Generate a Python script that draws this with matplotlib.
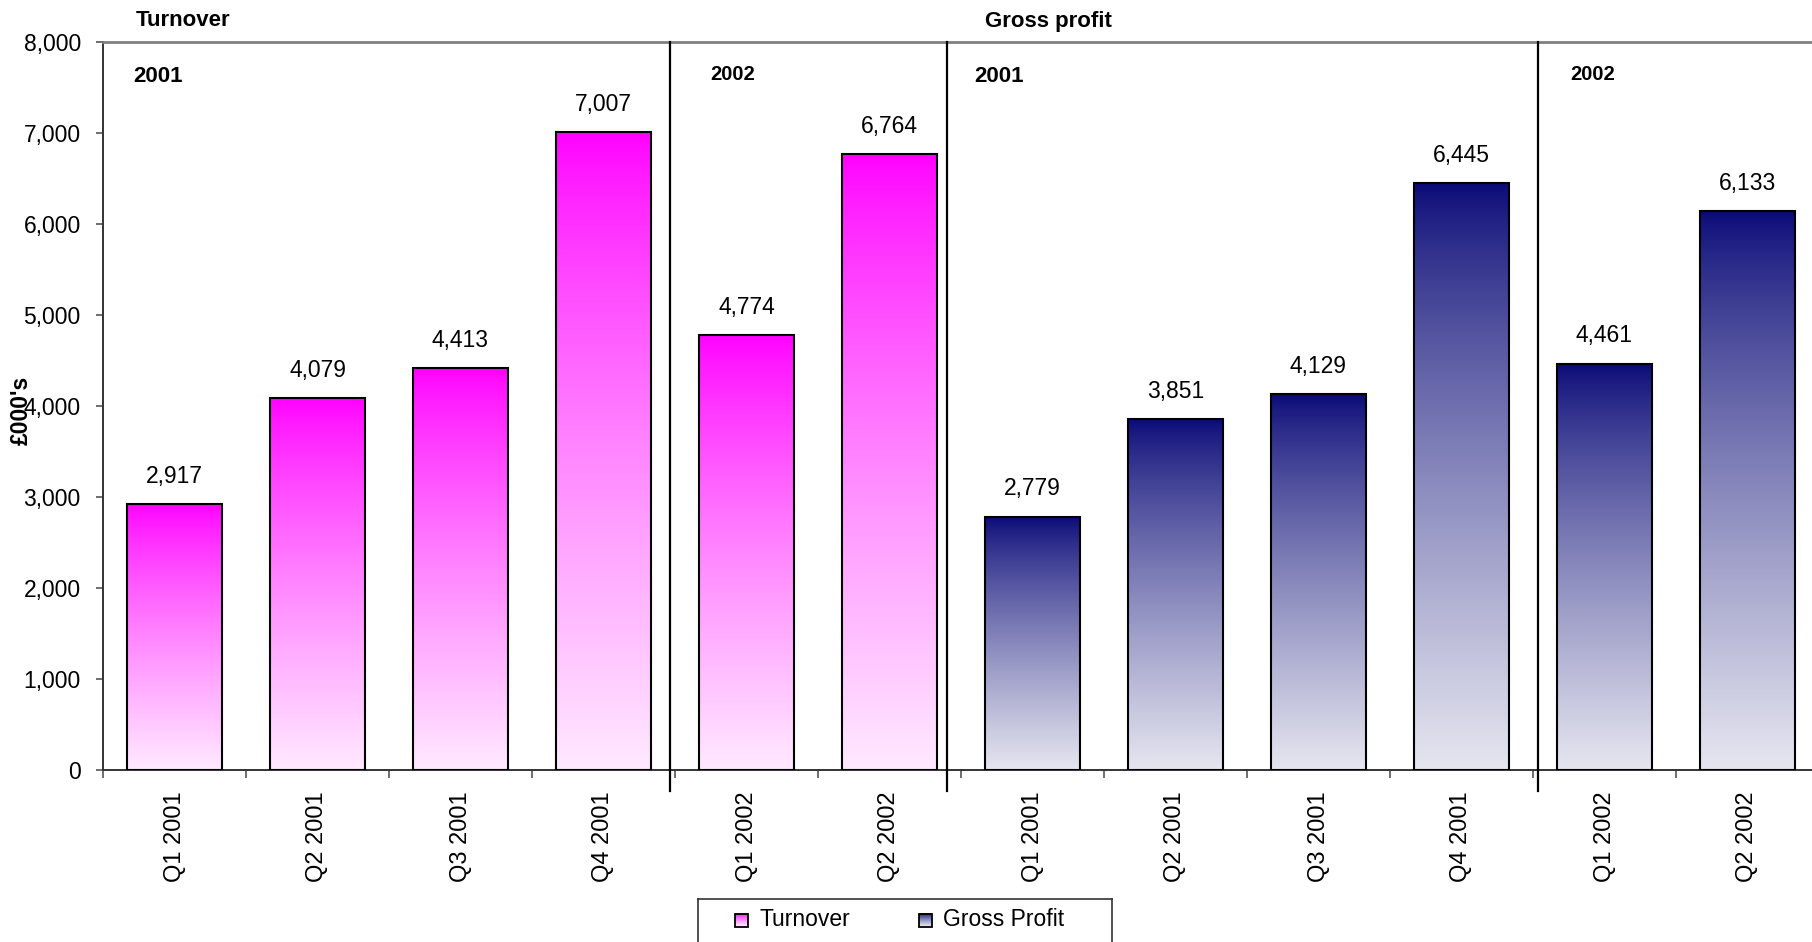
import numpy as np
import matplotlib
matplotlib.use("Agg")
import matplotlib.pyplot as plt
from matplotlib.patches import Rectangle
from matplotlib.colors import to_rgb

plt.rcParams['font.family'] = ['Liberation Sans', 'DejaVu Sans']

# ---- data -------------------------------------------------------------
categories = ["Q1 2001", "Q2 2001", "Q3 2001", "Q4 2001", "Q1 2002", "Q2 2002",
              "Q1 2001", "Q2 2001", "Q3 2001", "Q4 2001", "Q1 2002", "Q2 2002"]
turnover = [2917, 4079, 4413, 7007, 4774, 6764]
gross_profit = [2779, 3851, 4129, 6445, 4461, 6133]
values = turnover + gross_profit
series = ["Turnover"] * len(turnover) + ["Gross Profit"] * len(gross_profit)
y_ticks = [0, 1000, 2000, 3000, 4000, 5000, 6000, 7000, 8000]

# gradient end colours (top, bottom) for each series
gradients = {
    "Turnover": ("#FF00FF", "#FFE9FF"),
    "Gross Profit": ("#0A0A78", "#E6E6F0"),
}


def gradient_image(top, bottom, n=256, gamma=0.8):
    t = np.linspace(0, 1, n)[:, None]          # 0 at bottom, 1 at top
    w = (1 - t) ** gamma                       # weight of bottom colour
    top = np.array(to_rgb(top))
    bottom = np.array(to_rgb(bottom))
    img = top[None, :] * (1 - w) + bottom[None, :] * w
    return img[:, None, :]


W, H = 1812, 942
fig = plt.figure(figsize=(W / 100, H / 100), dpi=100)
ax = fig.add_axes([103 / W, 1 - 769.6 / H, 1716 / W, 728 / H])

x = np.arange(len(categories))
bar_w = 0.67
bars = ax.bar(x, values, width=bar_w, facecolor="none", edgecolor="black",
              linewidth=1.5, zorder=3)
for rect, s, v in zip(bars, series, values):
    x0 = rect.get_x()
    top, bottom = gradients[s]
    ax.imshow(gradient_image(top, bottom), extent=(x0, x0 + bar_w, 0, v),
              origin="lower", aspect="auto", zorder=2, interpolation="bilinear")
    ax.annotate(f"{v:,}", (rect.get_x() + bar_w / 2, v), xytext=(0, 20),
                textcoords="offset points", ha="center", va="center",
                fontsize=16.5, zorder=4)

ax.set_xlim(-0.5, len(categories) - 0.5)
ax.set_ylim(0, 8000)
ax.set_yticks(y_ticks)
ax.set_yticklabels([f"{v:,}" for v in y_ticks], fontsize=16.5)
ax.tick_params(axis="y", direction="out", length=5, width=1.2, pad=11,
               color="#555555")

# category boundaries as ticks, labels centred on the bars
ax.set_xticks(np.arange(len(categories) + 1) - 0.5)
ax.set_xticklabels([])
ax.set_xticks(x, minor=True)
ax.set_xticklabels(categories, minor=True, rotation=90, fontsize=17)
ax.tick_params(axis="x", which="major", direction="out", length=6, width=1.2,
               color="#555555")
ax.tick_params(axis="x", which="minor", length=0, pad=16)

for side in ("left", "bottom"):
    ax.spines[side].set_color("#333333")
    ax.spines[side].set_linewidth(1.4)
ax.spines["top"].set_color("#808080")
ax.spines["top"].set_linewidth(2)
ax.spines["right"].set_visible(False)

# section dividers
for xd in (3.465, 5.40, 9.535):
    ax.plot([xd, xd], [-230, 8000], color="black", lw=1.6, clip_on=False,
            zorder=5)

# section and year headings
fig.text(136 / W, 1 - 21 / H, "Turnover", fontsize=16, fontweight="bold",
         ha="left", va="center")
fig.text(985 / W, 1 - 21 / H, "Gross profit", fontsize=16, fontweight="bold",
         ha="left", va="center")
fig.text(133 / W, 1 - 76 / H, "2001", fontsize=16, fontweight="bold",
         ha="left", va="center")
fig.text(710 / W, 1 - 74 / H, "2002", fontsize=14.5, fontweight="bold",
         ha="left", va="center")
fig.text(974 / W, 1 - 76 / H, "2001", fontsize=16, fontweight="bold",
         ha="left", va="center")
fig.text(1570 / W, 1 - 74 / H, "2002", fontsize=14.5, fontweight="bold",
         ha="left", va="center")

fig.text(21 / W, 1 - 410 / H, "£000's", fontsize=16.5, fontweight="bold",
         rotation=90, ha="center", va="center")

# legend box
lax = fig.add_axes([698 / W, -10 / H, 414 / W, 53 / H])
lax.set_xticks([])
lax.set_yticks([])
for sp in lax.spines.values():
    sp.set_color("#333333")
    sp.set_linewidth(1.2)
for (mx, tx, label) in ((37, 61, "Turnover"), (221, 245, "Gross Profit")):
    top, bottom = gradients[label]
    lax.imshow(gradient_image(top, bottom), extent=(mx, mx + 13, 15.5, 28.5),
               origin="lower", aspect="auto", zorder=2)
    lax.add_patch(Rectangle((mx, 15.5), 13, 13, fill=False, edgecolor="black",
                            lw=1.3, zorder=3))
    lax.text(tx, 22, label, fontsize=16.5, ha="left", va="center")
lax.set_xlim(0, 414)
lax.set_ylim(-10, 43)

fig.savefig("out.png", dpi=100)
